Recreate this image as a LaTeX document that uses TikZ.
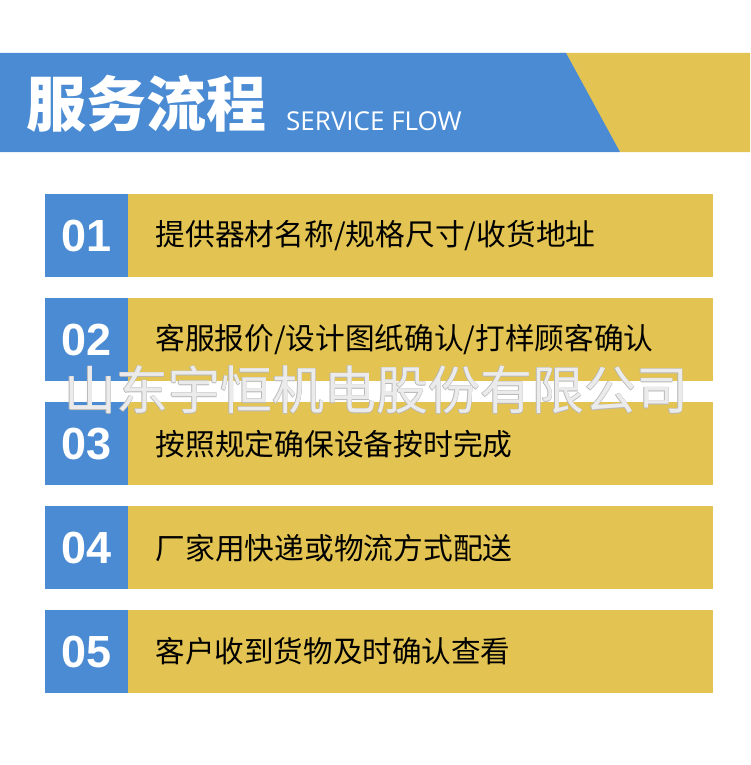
\documentclass[tikz,border=0pt]{standalone}
\usepackage{fontspec}
\newfontfamily\cjk{Noto Sans CJK SC}
\newfontfamily\cjkb{Noto Sans CJK SC Black}
\setmainfont{Liberation Sans}
\newfontfamily\opensans{Open Sans}
\definecolor{bblue}{HTML}{4A8BD4}
\definecolor{byel}{HTML}{E3C452}
\begin{document}
\begin{tikzpicture}[x=1pt,y=-1pt,
  numbox/.style={fill=bblue,minimum width=83pt,minimum height=83pt,inner sep=0,anchor=north west,text=white,font=\bfseries\fontsize{45}{45}\selectfont},
  txtbox/.style={fill=byel,minimum width=585pt,minimum height=83pt,inner sep=0,anchor=north west},
  lbl/.style={anchor=west,font=\cjk\fontsize{27}{27}\selectfont,text=black},
  wmark/.style={font=\cjk\fontsize{52}{52}\selectfont,inner sep=0}]
\useasboundingbox (0,0) rectangle (750,765);
\fill[white] (0,0) rectangle (750,765);
\fill[byel] (560,53) -- (750,53) -- (750,152) -- (620,152) -- cycle;
\fill[bblue] (0,53) -- (566,53) -- (620,152) -- (0,152) -- cycle;
\node[anchor=west,text=white,font=\cjkb\fontsize{60}{60}\selectfont,inner sep=0] (title) at (26,104) {服务流程};
\node[anchor=west,text=white,font=\opensans\fontsize{26}{26}\selectfont,inner sep=0] (sub) at (286,121) {SERVICE FLOW};
\foreach \n/\y/\t/\w in {01/194/{提供器材名称/规格尺寸/收货地址}/440,02/298/{客服报价/设计图纸确认/打样顾客确认}/498,03/402/{按照规定确保设备按时完成}/357,04/506/{厂家用快递或物流方式配送}/357,05/610/{客户收到货物及时确认查看}/355}{
  \node[txtbox] (t\n) at (128,\y) {};
  \node[numbox] (n\n) at (45,\y) {\n};
  \node[lbl] (l\n) at ([xshift=24pt]t\n.west) {\resizebox{\w pt}{!}{\t}};
}
\foreach \dx/\dy in {-0.8/0,0.8/0,0/-0.8,0/0.8}
  \node[wmark,text=black!28] at (376+\dx,390+\dy) {山东宇恒机电股份有限公司};
\node[wmark,text=white!92!black] (wm) at (376,390) {山东宇恒机电股份有限公司};
\end{tikzpicture}
\end{document}
